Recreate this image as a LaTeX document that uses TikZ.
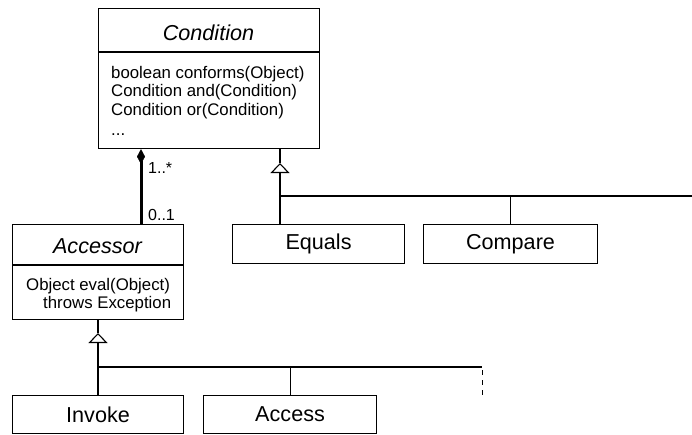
\documentclass[tikz,border=0pt]{standalone}
\usepackage{fontspec}
\setmainfont{Liberation Sans}
\usetikzlibrary{arrows.meta}

\begin{document}
\begin{tikzpicture}[x=1pt, y=-1pt,
  box/.style={draw, line width=1.1pt, inner sep=0pt, anchor=north west},
  classname/.style={font=\fontsize{21.6}{24}\selectfont},
  abstractname/.style={font=\fontsize{21.6}{24}\selectfont\itshape, anchor=base, inner sep=0pt},
  member/.style={font=\fontsize{16.8}{18.5}\selectfont, anchor=base west, inner sep=0pt},
  mult/.style={font=\fontsize{16}{18}\selectfont, anchor=base west, inner sep=0pt},
  link/.style={line width=1.1pt},
  thinlink/.style={line width=0.8pt},
  gentip/.style={-{Triangle[open, width=19pt, length=10pt, line width=1.1pt]}},
  composite/.style={line width=3pt, {Diamond[width=8pt, length=15pt, line width=0.5pt]}-}
]
\useasboundingbox (0,0) rectangle (692,434);

% Condition (abstract)
\node[box, minimum width=221pt, minimum height=140pt] (cond) at (98,8) {};
\draw[link] (cond.west |- 0,52) coordinate (condsepL) -- (cond.east |- condsepL);
\node[abstractname] (condTitle) at (208.5,40) {Condition};
\node[member] (m1) at (111,78) {boolean conforms(Object)};
\node[member] (m2) at (111,96.5) {Condition and(Condition)};
\node[member] (m3) at (111,115) {Condition or(Condition)};
\node[member] (m4) at (111,135) {...};

% Accessor (abstract)
\node[box, minimum width=171pt, minimum height=95pt] (acc) at (12,224) {};
\draw[link] (acc.west |- 0,265) coordinate (accsepL) -- (acc.east |- accsepL);
\node[abstractname] (accTitle) at (97.5,253) {Accessor};
\node[member] (a1) at (26,290) {Object eval(Object)};
\node[member] (a2) at (43,308) {throws Exception};

% Concrete conditions
\node[box, classname, minimum width=172pt, minimum height=39pt] (equals) at (232,224) {Equals};
\node[box, classname, minimum width=174pt, minimum height=39pt] (compare) at (423,224) {Compare};

% Concrete accessors
\node[box, classname, minimum width=171pt, minimum height=38pt] (invoke) at (12,395) {Invoke};
\node[box, classname, minimum width=173pt, minimum height=38pt] (access) at (203,395) {Access};

% Composition Condition <>-- Accessor
\coordinate (compx) at (141,0);
\draw[composite] (cond.south -| compx) -- (acc.north -| compx);
\node[mult] (multTop) at (148,173) {1..*};
\node[mult] (multBot) at (148,220) {0..1};

% Generalization: Equals, Compare, ... -> Condition
\coordinate (j1) at (280,196);
\coordinate (t1) at (280,163);
\coordinate (bus1end) at (692,196);
\draw[link] (cond.south -| j1) -- (t1);
\draw[link, gentip] (j1) -- (t1);
\draw[link] (equals.north -| j1) -- (j1) -- (bus1end);
\draw[thinlink] (compare.north) -- (compare.north |- j1);

% Generalization: Invoke, Access, ... -> Accessor
\coordinate (j2) at (98,367);
\coordinate (t2) at (98,333);
\coordinate (bus2end) at (482,367);
\coordinate (more) at (482,395);
\draw[link] (acc.south -| j2) -- (t2);
\draw[link, gentip] (j2) -- (t2);
\draw[link] (invoke.north -| j2) -- (j2) -- (bus2end);
\draw[thinlink] (access.north) -- (access.north |- j2);
\draw[thinlink, dash pattern=on 5pt off 5pt, dash phase=7pt] (bus2end) -- (more);
\end{tikzpicture}
\end{document}
